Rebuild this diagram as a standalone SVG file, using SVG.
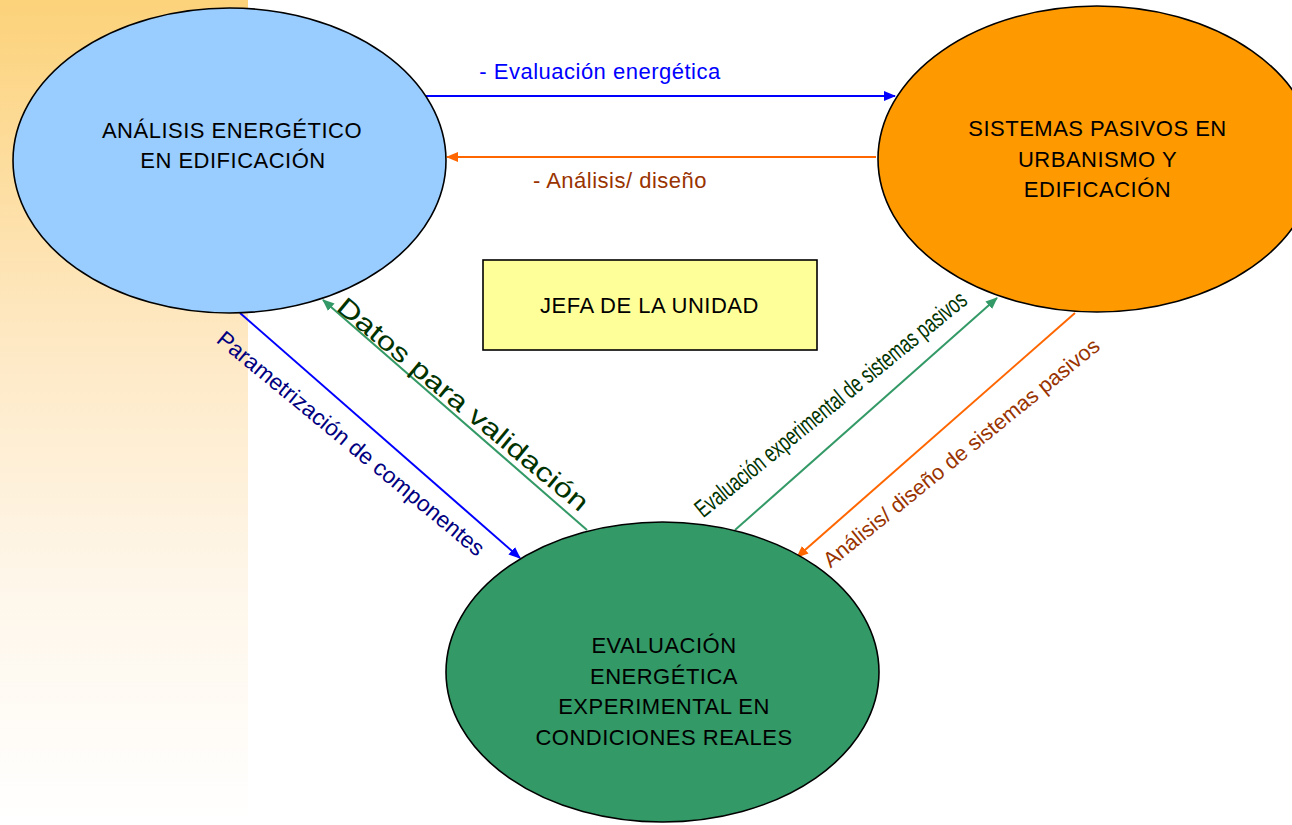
<svg xmlns="http://www.w3.org/2000/svg" width="1292" height="825" viewBox="0 0 1292 825">
<style>
text{font-family:"Liberation Sans",Arial,sans-serif;}
.node{stroke:#000;stroke-width:1.6;}
.nt{font-size:22px;fill:#000;text-anchor:middle;letter-spacing:0.5px;}
.lbl{font-size:22px;text-anchor:middle;letter-spacing:0.5px;}
.cb{stroke:#0000FF;stroke-width:2;fill:none;}
.co{stroke:#FF6600;stroke-width:2;fill:none;}
.cg{stroke:#339966;stroke-width:2;fill:none;}
</style>
<defs>
<linearGradient id="strip" x1="0" y1="0" x2="0" y2="1">
<stop offset="0" stop-color="#FCD27A"/>
<stop offset="0.4" stop-color="#FEE8C2"/>
<stop offset="0.7" stop-color="#FEF6E9"/>
<stop offset="1" stop-color="#FFFFFF"/>
</linearGradient>
<marker id="ab" markerWidth="12" markerHeight="10" refX="11" refY="5" orient="auto" markerUnits="userSpaceOnUse"><path d="M0,0 L12,5 L0,10 Z" fill="#0000FF"/></marker>
<marker id="ao" markerWidth="12" markerHeight="10" refX="11" refY="5" orient="auto" markerUnits="userSpaceOnUse"><path d="M0,0 L12,5 L0,10 Z" fill="#FF6600"/></marker>
<marker id="ag" markerWidth="12" markerHeight="10" refX="11" refY="5" orient="auto" markerUnits="userSpaceOnUse"><path d="M0,0 L12,5 L0,10 Z" fill="#339966"/></marker>
</defs>
<rect x="0" y="0" width="1292" height="825" fill="#FFFFFF"/>
<rect x="0" y="0" width="248" height="825" fill="url(#strip)"/>

<g id="connectors">
<line class="cb" x1="425" y1="96" x2="895" y2="96" marker-end="url(#ab)"/>
<line class="co" x1="876" y1="157" x2="447" y2="157" marker-end="url(#ao)"/>
<line class="cb" x1="240" y1="313" x2="520" y2="558" marker-end="url(#ab)"/>
<line class="cg" x1="587" y1="530" x2="323" y2="300" marker-end="url(#ag)"/>
<line class="cg" x1="735" y1="530" x2="997" y2="298" marker-end="url(#ag)"/>
<line class="co" x1="1075" y1="313" x2="797" y2="557" marker-end="url(#ao)"/>
<text class="lbl" x="600" y="79" fill="#0000FF">- Evaluación energética</text>
<text class="lbl" x="620" y="188" fill="#993300">- Análisis/ diseño</text>
<text transform="translate(215.3,341.6) rotate(39.5)" font-size="22.5" fill="#000080" textLength="339" lengthAdjust="spacingAndGlyphs">Parametrización de componentes</text>
<text transform="translate(334.9,309.6) rotate(39.7)" font-size="26" fill="#003300" textLength="318" lengthAdjust="spacingAndGlyphs">Datos para validación</text>
<text transform="translate(703.3,518.6) rotate(-39.1)" font-size="25" fill="#003300" textLength="342" lengthAdjust="spacingAndGlyphs">Evaluación experimental de sistemas pasivos</text>
<text transform="translate(830.4,568.6) rotate(-39.1)" font-size="21.5" fill="#993300" textLength="349" lengthAdjust="spacingAndGlyphs">Análisis/ diseño de sistemas pasivos</text>
</g>

<g id="analisis">
<ellipse class="node" cx="229.5" cy="160.5" rx="216.5" ry="152.5" fill="#99CCFF"/>
<text class="nt" x="232" y="137.5">ANÁLISIS ENERGÉTICO</text>
<text class="nt" x="233" y="167.5">EN EDIFICACIÓN</text>
</g>

<g id="sistemas">
<ellipse class="node" cx="1097" cy="159" rx="219" ry="153" fill="#FF9900"/>
<text class="nt" x="1097.5" y="136">SISTEMAS PASIVOS EN</text>
<text class="nt" x="1097.5" y="166.5">URBANISMO Y</text>
<text class="nt" x="1097.5" y="196.5">EDIFICACIÓN</text>
</g>

<g id="evaluacion">
<ellipse class="node" cx="662.5" cy="672" rx="216.5" ry="150" fill="#339966"/>
<text class="nt" x="664" y="653">EVALUACIÓN</text>
<text class="nt" x="664" y="683.5">ENERGÉTICA</text>
<text class="nt" x="664" y="713.5">EXPERIMENTAL EN</text>
<text class="nt" x="664" y="744.5">CONDICIONES REALES</text>
</g>

<g id="jefa">
<rect x="483" y="260" width="334" height="90" fill="#FFFF99" stroke="#000" stroke-width="1.6"/>
<text class="nt" x="649.5" y="313">JEFA DE LA UNIDAD</text>
</g>
</svg>
